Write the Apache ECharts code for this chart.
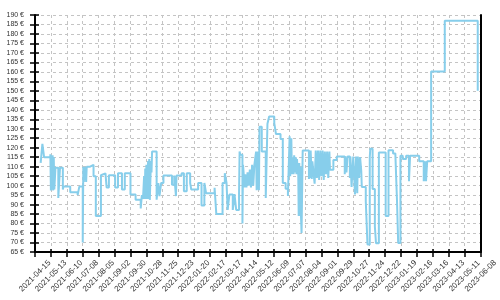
<!DOCTYPE html>
<html><head><meta charset="utf-8">
<script src="https://cdn.jsdelivr.net/npm/echarts@6/dist/echarts.min.js"></script>
<style>html,body{margin:0;padding:0;background:#fff}#c{width:500px;height:300px}</style>
</head><body><div id="c"></div>
<script>
const dates = [
'2021-04-25','2021-04-28','2021-05-01','2021-05-12','2021-05-13','2021-05-14','2021-05-15','2021-05-16','2021-05-17','2021-05-18',
'2021-05-19','2021-05-21','2021-05-26','2021-05-29','2021-06-03','2021-06-04','2021-06-16','2021-06-29','2021-07-02','2021-07-08',
'2021-07-09','2021-07-10','2021-07-11','2021-07-12','2021-07-13','2021-07-14','2021-07-15','2021-07-21','2021-07-27','2021-07-31',
'2021-08-09','2021-08-12','2021-08-17','2021-08-19','2021-08-23','2021-09-03','2021-09-08','2021-09-15','2021-09-20','2021-09-30',
'2021-10-09','2021-10-18','2021-10-20','2021-10-22','2021-10-24','2021-10-25','2021-10-26','2021-10-27','2021-10-28','2021-10-29',
'2021-10-31','2021-11-01','2021-11-02','2021-11-03','2021-11-05','2021-11-06','2021-11-07','2021-11-15','2021-11-18','2021-11-20',
'2021-11-23','2021-11-27','2021-12-12','2021-12-16','2021-12-19','2021-12-20','2021-12-29','2022-01-02','2022-01-07','2022-01-13',
'2022-01-15','2022-01-27','2022-02-02','2022-02-07','2022-02-10','2022-02-25','2022-02-28','2022-03-11','2022-03-15','2022-03-18',
'2022-03-20','2022-03-23','2022-03-29','2022-04-01','2022-04-04','2022-04-09','2022-04-10','2022-04-11','2022-04-15','2022-04-16',
'2022-04-19','2022-04-20','2022-04-22','2022-04-24','2022-04-26','2022-04-28','2022-04-30','2022-05-02','2022-05-04','2022-05-06',
'2022-05-09','2022-05-10','2022-05-11','2022-05-12','2022-05-13','2022-05-14','2022-05-15','2022-05-19','2022-05-26','2022-05-29',
'2022-06-01','2022-06-10','2022-06-13','2022-06-21','2022-06-25','2022-06-30','2022-07-04','2022-07-07','2022-07-08','2022-07-10',
'2022-07-11','2022-07-13','2022-07-14','2022-07-15','2022-07-16','2022-07-18','2022-07-19','2022-07-20','2022-07-21','2022-07-22',
'2022-07-23','2022-07-24','2022-07-25','2022-07-26','2022-07-27','2022-07-28','2022-07-30','2022-08-10','2022-08-11','2022-08-12',
'2022-08-13','2022-08-15','2022-08-16','2022-08-18','2022-08-20','2022-08-22','2022-08-24','2022-08-26','2022-08-28','2022-08-30',
'2022-09-01','2022-09-03','2022-09-05','2022-09-07','2022-09-09','2022-09-11','2022-09-13','2022-09-15','2022-09-16','2022-09-22',
'2022-09-28','2022-10-12','2022-10-13','2022-10-15','2022-10-17','2022-10-21','2022-10-22','2022-10-24','2022-10-27','2022-10-30',
'2022-11-01','2022-11-03','2022-11-04','2022-11-06','2022-11-08','2022-11-10','2022-11-11','2022-11-18','2022-11-21','2022-11-25',
'2022-11-26','2022-11-30','2022-12-04','2022-12-06','2022-12-11','2022-12-23','2022-12-28','2023-01-05','2023-01-09','2023-01-12',
'2023-01-14','2023-01-18','2023-01-22','2023-01-28','2023-02-02','2023-02-04','2023-02-20','2023-02-28','2023-03-01','2023-03-02',
'2023-03-03','2023-03-04','2023-03-06','2023-03-13','2023-04-06','2023-06-03'
];
const prices = [
112,122,115,116.5,97.5,116,98,116,97.5,115,
98,109.5,93.5,109.5,98,99.5,96.5,95,99.5,70,
110,102,110,103,110,102,110,111,105,84,
105.5,106.5,105.5,99,105.5,99,106.5,98,106.5,95.3,
92.6,88,95,93,105,93,109,93,111,93,
113,93,114,92.5,113,107,118,92.6,101.4,94.5,
101.4,105.3,100.5,105.3,94.5,105.3,106.5,97,106.5,101.4,
97.9,101.4,89.5,101.4,96,98.9,85,101.4,106.6,101.4,
87.2,95.3,87.2,95.5,87.2,95.5,118,116.3,80,111,
99,106,99,107,100,108.5,99,111,100,111,
118,97.6,118,98,118,97.6,131,118,93.5,132.6,
136.5,133,127.2,124.6,101.4,98.4,94.5,126,105,125,
106,115,106,116,107,115,106,114,108,112,
84,112,84,110,84,75,118.5,103.5,118.5,104,
118.5,103.5,112.8,107,101,118.5,104,118.5,103,118.5,
105,118.5,103,118,106,118,104,118,108.4,113.5,
115.4,106,115.4,107,115.4,104,115.4,99.3,115.4,95.3,
115.4,96,115.4,104,115,108,99.3,91.8,69,115,
119.5,98.2,78.4,69.6,117.5,84,118.6,117,116,91.4,
69.8,115.8,114,115.8,102.3,115.8,112.8,102.3,112.8,102.3,
112.8,102.3,112.8,160.2,187,150
];
const xStart = '2021-04-15';
const xEnd = '2023-06-08';
const xStepDays = 28;
const yMin = 65, yMax = 190, yStep = 5;

const DAY = 86400000;
const toTs = s => Date.parse(s + 'T00:00:00Z');
const fmt = v => new Date(v).toISOString().slice(0, 10);
const seriesData = dates.map((d, i) => [toTs(d), prices[i]]);

const fontFam = 'Liberation Sans, Arial, sans-serif';
const xCommon = { type: 'value', min: toTs(xStart), max: toTs(xEnd), interval: xStepDays * DAY, position: 'bottom' };
const yCommon = { type: 'value', min: yMin, max: yMax, interval: yStep };

const chart = echarts.init(document.getElementById('c'), null, { renderer: 'canvas' });
chart.setOption({
  animation: false,
  backgroundColor: '#fff',
  grid: { left: 35, right: 15, top: 15, bottom: 48, containLabel: false },
  xAxis: [
    Object.assign({}, xCommon, {
      axisLine: { show: true, onZero: false, lineStyle: { color: '#000', width: 2 } },
      axisTick: { show: true, length: 5, lineStyle: { color: '#000', width: 1.5 } },
      axisLabel: { rotate: 45, formatter: fmt, align: 'center', verticalAlign: 'middle', margin: 24, fontSize: 8, color: '#333', fontFamily: fontFam },
      splitLine: { show: true, lineStyle: { color: '#c4c4c4', type: [3, 3], width: 1 } }
    }),
    Object.assign({}, xCommon, {
      axisLine: { show: false, onZero: false },
      axisTick: { show: true, inside: true, length: 3, lineStyle: { color: '#000', width: 1.5 } },
      axisLabel: { show: false },
      splitLine: { show: false }
    })
  ],
  yAxis: [
    Object.assign({}, yCommon, {
      position: 'left',
      axisLine: { show: true, onZero: false, lineStyle: { color: '#000', width: 2 } },
      axisTick: { show: true, length: 5, lineStyle: { color: '#000', width: 1.5 } },
      axisLabel: { formatter: '{value} €', margin: 11, fontSize: 7, color: '#333', fontFamily: fontFam },
      splitLine: { show: true, lineStyle: { color: '#c4c4c4', type: [3, 3], width: 1 } }
    }),
    Object.assign({}, yCommon, {
      position: 'left',
      axisLine: { show: false, onZero: false },
      axisTick: { show: true, inside: true, length: 4, lineStyle: { color: '#000', width: 1.5 } },
      axisLabel: { show: false },
      splitLine: { show: false }
    }),
    Object.assign({}, yCommon, {
      position: 'right',
      axisLine: { show: true, onZero: false, lineStyle: { color: '#000', width: 2 } },
      axisTick: { show: false },
      axisLabel: { show: false },
      splitLine: { show: false }
    })
  ],
  series: [{
    type: 'line',
    step: 'end',
    data: seriesData,
    showSymbol: false,
    symbol: 'none',
    lineStyle: { color: '#87ceeb', width: 2 },
    xAxisIndex: 0,
    yAxisIndex: 0
  }]
});
</script>
</body></html>
